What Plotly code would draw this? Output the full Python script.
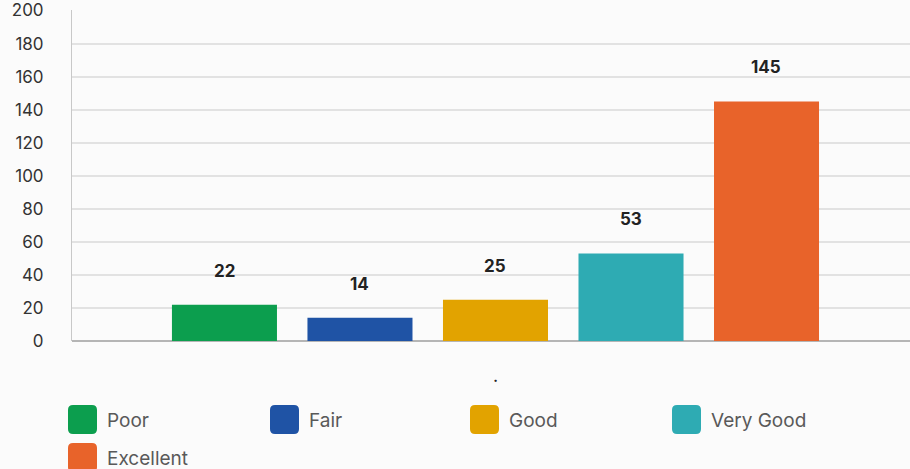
import plotly.graph_objects as go

categories = ["."]
series_names = ["Poor", "Fair", "Good", "Very Good", "Excellent"]
series_values = [22, 14, 25, 53, 145]
series_colors = ["#0c9e4e", "#1f53a5", "#e2a300", "#2eabb3", "#e8632a"]
y_ticks = [0, 20, 40, 60, 80, 100, 120, 140, 160, 180, 200]

W, H = 910, 469
ML, MR, MT, MB = 72, 0, 10, 128
PW, PH = W - ML - MR, H - MT - MB
FONT = "Inter, Noto Sans, sans-serif"
YMAX = 200.3

fig = go.Figure()
for name, val, col in zip(series_names, series_values, series_colors):
    fig.add_trace(go.Bar(x=categories, y=[val], name=name, marker_color=col,
                         marker_line_width=0, showlegend=False))

# data labels above bars
pitch = 135.5
n = len(series_values)
for i, val in enumerate(series_values):
    fig.add_annotation(x=categories[0], y=val, text=f"<b>{val}</b>", showarrow=False,
                       xref="x", yref="y", xshift=(i - (n - 1) / 2) * pitch, yshift=34,
                       font=dict(size=17, color="#222222", family=FONT))

# custom legend
def px2paper(x, y):
    return (x - ML) / PW, (H - MB - y) / PH

def rounded_path(x0, y0, x1, y1, r):
    def p(x, y):
        a, b = px2paper(x, y)
        return f"{a:.5f},{b:.5f}"
    return (f"M {p(x0 + r, y0)} L {p(x1 - r, y0)} Q {p(x1, y0)} {p(x1, y0 + r)} "
            f"L {p(x1, y1 - r)} Q {p(x1, y1)} {p(x1 - r, y1)} "
            f"L {p(x0 + r, y1)} Q {p(x0, y1)} {p(x0, y1 - r)} "
            f"L {p(x0, y0 + r)} Q {p(x0, y0)} {p(x0 + r, y0)} Z")

legend_x = [68, 270, 470, 672]
legend_rows = [405, 443]
for i, (name, col) in enumerate(zip(series_names, series_colors)):
    row, colidx = divmod(i, 4)
    x0 = legend_x[colidx]
    y0 = legend_rows[row]
    fig.add_shape(type="path", path=rounded_path(x0, y0, x0 + 29, y0 + 29, 5),
                  xref="paper", yref="paper", fillcolor=col, line_width=0, layer="above")
    tx, ty = px2paper(x0 + 37, y0 + 15)
    fig.add_annotation(x=tx, y=ty, xref="paper", yref="paper", text=name, showarrow=False,
                       xanchor="left", yanchor="middle",
                       font=dict(size=19, color="#595959", family=FONT))

fig.update_layout(
    width=W, height=H,
    margin=dict(l=ML, r=MR, t=MT, b=MB),
    paper_bgcolor="#fbfbfb", plot_bgcolor="#fbfbfb",
    barmode="group", bargap=0.2, bargroupgap=0.225,
    showlegend=False,
    font=dict(family=FONT, color="#333333"),
)
fig.update_xaxes(range=[-0.5, 0.4894], showgrid=False, showline=False, zeroline=False,
                 ticks="", ticklabelstandoff=22, tickfont=dict(size=18, color="#222222"))
fig.update_yaxes(range=[0, YMAX], tickvals=y_ticks, showgrid=True, gridcolor="#e2e2e2",
                 gridwidth=2, showline=True, linecolor="#c8c8c8", linewidth=1,
                 zeroline=True, zerolinecolor="#b5b5b5", zerolinewidth=2,
                 ticks="", ticklabelstandoff=24, ticklabeloverflow="allow",
                 tickfont=dict(size=17, color="#333333"))

fig.write_html("out.html", config={"displayModeBar": False},
               post_script="document.body.style.margin='0';document.body.style.background='#fbfbfb';")
